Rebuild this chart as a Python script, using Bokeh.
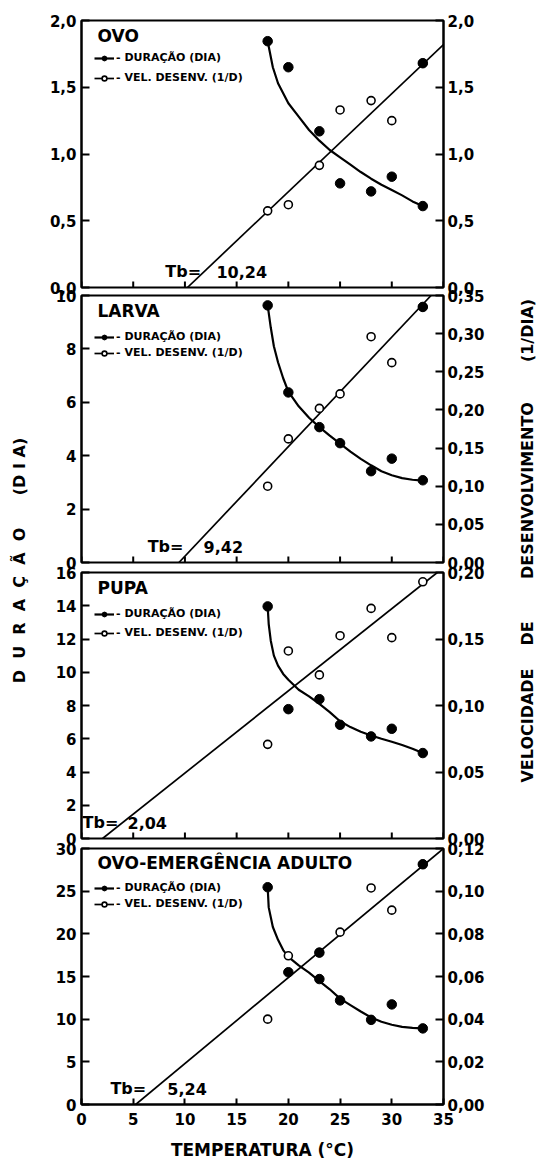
import math
from bokeh.plotting import figure
from bokeh.models import (Range1d, LinearAxis, FixedTicker, CustomJSTickFormatter,
                          Label, Legend, LegendItem)
from bokeh.layouts import row, column
from bokeh.embed import file_html
from bokeh.resources import INLINE

FONT = "DejaVu Sans"

# ---------------- data ----------------
TEMPS = [18, 20, 23, 25, 28, 30, 33]
X_TICKS = [0, 5, 10, 15, 20, 25, 30, 35]
X_TITLE = "TEMPERATURA (°C)"

OVO_DUR = [1.845, 1.65, 1.17, 0.78, 0.72, 0.83, 0.61]
OVO_VEL = [0.574, 0.62, 0.915, 1.33, 1.40, 1.25, 1.68]
OVO_CURVE_T = [18, 18.5, 19, 20, 21, 22, 23, 24, 25, 26, 27, 28, 29, 30, 31, 32, 33]
OVO_CURVE_D = [1.845, 1.65, 1.53, 1.38, 1.28, 1.18, 1.10, 1.03, 0.975, 0.92, 0.865, 0.815, 0.77, 0.73, 0.69, 0.645, 0.61]
OVO_TB = 10.24
OVO_LINE_END = (35.0, 1.82)

LARVA_DUR = [9.63, 6.37, 5.07, 4.47, 3.42, 3.89, 3.08]
LARVA_VEL = [0.100, 0.162, 0.202, 0.221, 0.296, 0.262, 0.335]
LARVA_CURVE_T = [18, 18.3, 18.6, 19, 19.5, 20, 21, 22, 23, 24, 25, 26, 27, 28, 29, 30, 31, 32, 33]
LARVA_CURVE_D = [9.63, 8.8, 8.1, 7.5, 6.9, 6.4, 5.85, 5.42, 5.07, 4.75, 4.45, 4.15, 3.88, 3.64, 3.42, 3.27, 3.16, 3.1, 3.07]
LARVA_TB = 9.42
LARVA_LINE_END = (33.8, 0.35)

PUPA_DUR = [13.96, 7.78, 8.38, 6.84, 6.14, 6.6, 5.14]
PUPA_VEL = [0.0708, 0.141, 0.123, 0.1525, 0.173, 0.151, 0.193]
PUPA_CURVE_T = [18, 18.1, 18.3, 18.6, 19, 19.5, 20, 21, 22, 23, 24, 25, 26, 27, 28, 29, 30, 31, 32, 33]
PUPA_CURVE_D = [13.96, 12.9, 11.9, 11.0, 10.4, 9.9, 9.55, 8.95, 8.55, 8.1, 7.6, 7.05, 6.7, 6.42, 6.2, 6.0, 5.82, 5.62, 5.4, 5.14]
PUPA_TB = 2.04
PUPA_LINE_END = (34.4, 0.20)

ADULTO_DUR = [25.46, 15.5, 14.7, 12.2, 9.92, 11.73, 8.92]
ADULTO_VEL = [0.040, 0.0697, 0.0712, 0.0808, 0.1015, 0.0911, 0.1126]
ADULTO_CURVE_T = [18, 18.1, 18.5, 19, 19.5, 20, 21, 22, 23, 24, 25, 26, 27, 28, 29, 30, 31, 32, 33]
ADULTO_CURVE_D = [25.46, 23.1, 20.8, 19.3, 18.1, 17.3, 16.3, 15.45, 14.45, 13.5, 12.4, 11.65, 10.9, 10.2, 9.7, 9.35, 9.1, 8.98, 8.92]
ADULTO_TB = 5.24
ADULTO_LINE_END = (35.0, 0.12)

PANELS = [
    dict(title="OVO", dur=OVO_DUR, vel=OVO_VEL, ct=OVO_CURVE_T, cd=OVO_CURVE_D,
         tb=OVO_TB, tb_text="10,24", line_end=OVO_LINE_END,
         dur_ticks=[0, 0.5, 1.0, 1.5, 2.0], dur_dec=1,
         vel_ticks=[0, 0.5, 1.0, 1.5, 2.0], vel_dec=1,
         solid_vel=[33], tb_x=(8.1, 13.05), legend_rows=(38, 58)),
    dict(title="LARVA", dur=LARVA_DUR, vel=LARVA_VEL, ct=LARVA_CURVE_T, cd=LARVA_CURVE_D,
         tb=LARVA_TB, tb_text="9,42", line_end=LARVA_LINE_END,
         dur_ticks=[0, 2, 4, 6, 8, 10], dur_dec=0,
         vel_ticks=[0, 0.05, 0.10, 0.15, 0.20, 0.25, 0.30, 0.35], vel_dec=2,
         solid_vel=[33], tb_x=(6.4, 11.8), legend_rows=(42, 58)),
    dict(title="PUPA", dur=PUPA_DUR, vel=PUPA_VEL, ct=PUPA_CURVE_T, cd=PUPA_CURVE_D,
         tb=PUPA_TB, tb_text="2,04", line_end=PUPA_LINE_END,
         dur_ticks=[0, 2, 4, 6, 8, 10, 12, 14, 16], dur_dec=0,
         vel_ticks=[0, 0.05, 0.10, 0.15, 0.20], vel_dec=2,
         solid_vel=[], tb_x=(0.1, 4.45), legend_rows=(42, 61)),
    dict(title="OVO-EMERGÊNCIA ADULTO", dur=ADULTO_DUR, vel=ADULTO_VEL, ct=ADULTO_CURVE_T, cd=ADULTO_CURVE_D,
         tb=ADULTO_TB, tb_text="5,24", line_end=ADULTO_LINE_END,
         dur_ticks=[0, 5, 10, 15, 20, 25, 30], dur_dec=0,
         vel_ticks=[0, 0.02, 0.04, 0.06, 0.08, 0.10, 0.12], vel_dec=2,
         solid_vel=[23, 33], tb_x=(2.8, 8.3), legend_rows=(43, 59)),
]

# ---------------- layout constants ----------------
LEFT_W = 46
RIGHT_W = 47
BORDER_L = 35
BORDER_R = 50
FRAME_W = 362
PANEL_W = BORDER_L + FRAME_W + BORDER_R
# (border top, frame height, border bottom, overlap with previous figure)
FRAMES = [(20, 267, 10, 0), (10, 267, 10, 12), (10, 266, 10, 10), (10, 259, 55, 10)]
TOTAL_H = sum(a + b + c - d for a, b, c, d in FRAMES)


def fmt(dec):
    return CustomJSTickFormatter(code=f"return tick.toFixed({dec}).replace('.', ',');")


def style_axis(ax, tick_in, size="15px"):
    ax.minor_tick_line_color = None
    ax.major_tick_in = tick_in
    ax.major_tick_out = 0
    ax.major_tick_line_width = 2
    ax.major_tick_line_color = "black"
    ax.axis_line_width = 2
    ax.axis_line_color = "black"
    ax.major_label_text_font = FONT
    ax.major_label_text_font_style = "bold"
    ax.major_label_text_font_size = size
    ax.major_label_text_color = "black"


def make_panel(cfg, geom, show_x):
    top, fh, bot, overlap = geom
    dmax = cfg["dur_ticks"][-1]
    vmax = cfg["vel_ticks"][-1]
    p = figure(width=PANEL_W, height=top + fh + bot,
               x_range=Range1d(0, 35), y_range=Range1d(0, dmax + dmax * 1e-9),
               output_backend="svg", toolbar_location=None,
               min_border_left=BORDER_L, min_border_right=BORDER_R,
               min_border_top=top, min_border_bottom=bot,
               x_axis_type="linear" if show_x else None)
    if overlap:
        p.styles = {"margin-top": f"-{overlap}px"}
    p.extra_y_ranges = {"v": Range1d(0, vmax + vmax * 1e-9)}
    p.grid.visible = False
    p.outline_line_color = "black"
    p.outline_line_width = 2
    p.background_fill_color = "white"
    p.border_fill_alpha = 0

    if show_x:
        xa = p.xaxis[0]
        xa.ticker = FixedTicker(ticks=X_TICKS)
        style_axis(xa, 6)
        xa.major_label_standoff = 8
        xa.axis_label = X_TITLE
        xa.axis_label_text_font = FONT
        xa.axis_label_text_font_style = "bold"
        xa.axis_label_text_font_size = "17px"
        xa.axis_label_text_color = "black"
        xa.axis_label_standoff = 12
    else:
        # inward x tick marks at the bottom of the frame
        tick_len = dmax * 6.0 / fh
        p.segment(x0=X_TICKS, y0=[0] * len(X_TICKS), x1=X_TICKS,
                  y1=[tick_len] * len(X_TICKS), line_color="black", line_width=2)

    ya = p.yaxis[0]
    ya.ticker = FixedTicker(ticks=cfg["dur_ticks"])
    ya.formatter = fmt(cfg["dur_dec"])
    style_axis(ya, 8)
    ya.major_label_standoff = 5

    ra = LinearAxis(y_range_name="v", ticker=FixedTicker(ticks=cfg["vel_ticks"]),
                    formatter=fmt(cfg["vel_dec"]))
    style_axis(ra, 8)
    ra.major_label_standoff = 4
    p.add_layout(ra, "right")

    # development-rate regression line
    x0, (x1, y1) = cfg["tb"], cfg["line_end"]
    line_r = p.line([x0, x1], [0, y1], y_range_name="v", line_color="black", line_width=1.7)
    # duration curve
    curve_r = p.line(cfg["ct"], cfg["cd"], line_color="black", line_width=2.2)
    # points
    dur_r = p.scatter(TEMPS, cfg["dur"], size=9.5, marker="circle",
                      fill_color="black", line_color="black")
    vel_r = p.scatter(TEMPS, cfg["vel"], y_range_name="v", size=8, marker="circle",
                      fill_color="white", line_color="black", line_width=1.6)
    sx = [t for t in TEMPS if t in cfg["solid_vel"]]
    sy = [v for t, v in zip(TEMPS, cfg["vel"]) if t in cfg["solid_vel"]]
    if sx:
        p.scatter(sx, sy, y_range_name="v", size=9.5, marker="circle",
                  fill_color="black", line_color="black")

    # panel title
    p.add_layout(Label(x=1.55, y=dmax * (1 - 15.0 / fh), text=cfg["title"],
                       text_font=FONT, text_font_style="bold", text_font_size="17px",
                       text_baseline="middle", text_align="left", text_color="black"))
    # Tb labels
    ty = dmax * (16.0 / fh)
    for xx, txt in ((cfg["tb_x"][0], "Tb="), (cfg["tb_x"][1], cfg["tb_text"])):
        p.add_layout(Label(x=xx, y=ty, text=txt, text_font=FONT,
                           text_font_style="bold", text_font_size="16px",
                           text_baseline="middle", text_align="left", text_color="black"))

    # legend
    r1, r2 = cfg["legend_rows"]
    leg = Legend(items=[LegendItem(label="- DURAÇÃO (DIA)", renderers=[curve_r, dur_r]),
                        LegendItem(label="- VEL. DESENV. (1/D)", renderers=[line_r, vel_r])],
                 location=(13, fh - (r2 + 6)), orientation="vertical",
                 glyph_width=20, glyph_height=12, label_height=12,
                 spacing=max(0, (r2 - r1) - 13), padding=0, margin=0, label_standoff=2,
                 border_line_alpha=0, background_fill_alpha=0,
                 label_text_font=FONT, label_text_font_style="bold",
                 label_text_font_size="11px", label_text_color="black")
    p.add_layout(leg)
    return p


panels = [make_panel(cfg, g, i == 3) for i, (cfg, g) in enumerate(zip(PANELS, FRAMES))]


def title_fig(width, labels):
    f = figure(width=width, height=TOTAL_H, x_range=Range1d(0, width), y_range=Range1d(0, TOTAL_H),
               output_backend="svg", toolbar_location=None, min_border=0,
               x_axis_type=None, y_axis_type=None)
    f.grid.visible = False
    f.outline_line_color = None
    for x, page_y, txt in labels:
        f.add_layout(Label(x=x, y=TOTAL_H - page_y, text=txt, angle=math.pi / 2,
                           text_font=FONT, text_font_style="bold", text_font_size="16px",
                           text_align="center", text_baseline="middle", text_color="black"))
    return f


left = title_fig(LEFT_W, [(19, 466, "(D I A)"),
                          (19, 605, "D\u00a0 U\u00a0 R\u00a0 A\u00a0 Ç\u00a0 Ã\u00a0 O")])
right = title_fig(RIGHT_W, [(34, 330, "(1/DIA)"),
                            (34, 490, "DESENVOLVIMENTO"),
                            (34, 633, "DE"),
                            (34, 725, "VELOCIDADE")])

layout = row(left, column(*panels), right)
open("out.html", "w").write(file_html(layout, INLINE))
